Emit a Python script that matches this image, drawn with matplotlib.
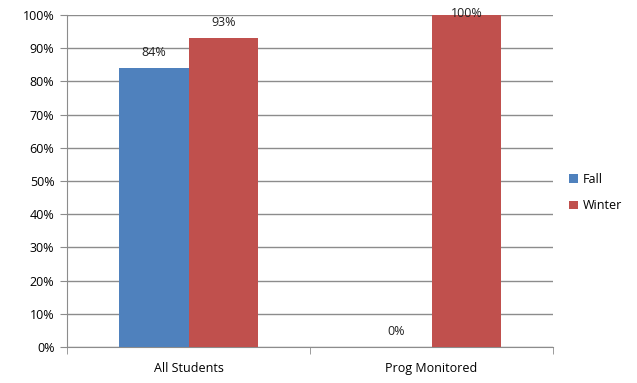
import numpy as np
import matplotlib.pyplot as plt
from matplotlib.ticker import PercentFormatter

categories = ["All Students", "Prog Monitored"]
fall = [0.84, 0.0]
winter = [0.93, 1.00]
fall_labels = ["84%", "0%"]
winter_labels = ["93%", "100%"]

blue = "#4F81BD"
red = "#C0504D"

plt.rcParams['font.family'] = ['Open Sans', 'DejaVu Sans']

fig = plt.figure(figsize=(6.37, 3.83), dpi=100)
ax = fig.add_axes([67 / 637, 36 / 383, 486 / 637, 332 / 383])

x = np.arange(len(categories))
w = 0.288
b1 = ax.bar(x - w / 2, fall, w, color=blue, label="Fall", zorder=3)
b2 = ax.bar(x + w / 2, winter, w, color=red, label="Winter", zorder=3)

# value labels, Excel keeps the top one inside the frame
for bars, labels in [(b1, fall_labels), (b2, winter_labels)]:
    for bar, lab in zip(bars, labels):
        cx = bar.get_x() + bar.get_width() / 2
        cy = min(bar.get_height() + 0.047, 1.005)
        ax.text(cx, cy, lab, ha="center", va="center", fontsize=9, color="#222222", zorder=4)

ax.set_xlim(-0.5, 1.5)
ax.set_ylim(0, 1)
ax.set_yticks(np.arange(0, 1.01, 0.1))
ax.yaxis.set_major_formatter(PercentFormatter(1.0, decimals=0))
ax.grid(axis="y", color="#8c8c8c", linewidth=1, zorder=0)

ax.set_xticks(x)
ax.set_xticklabels(categories)
ax.set_xticks([-0.5, 0.5, 1.5], minor=True)
ax.tick_params(axis="x", which="major", length=0, pad=11, labelsize=9)
ax.tick_params(axis="x", which="minor", length=5, color="#8c8c8c")
ax.tick_params(axis="y", length=5, color="#8c8c8c", labelsize=9, pad=4)

for s in ["top", "right"]:
    ax.spines[s].set_visible(False)
ax.spines["left"].set_color("#8c8c8c")
ax.spines["bottom"].set_color("#8c8c8c")

ax.legend(loc="center left", bbox_to_anchor=(1.0, 0.465), frameon=False,
          fontsize=9, handlelength=0.7, handleheight=0.7, handletextpad=0.4,
          labelspacing=1.1, borderaxespad=0.9)

fig.savefig("out.png", dpi=100)
